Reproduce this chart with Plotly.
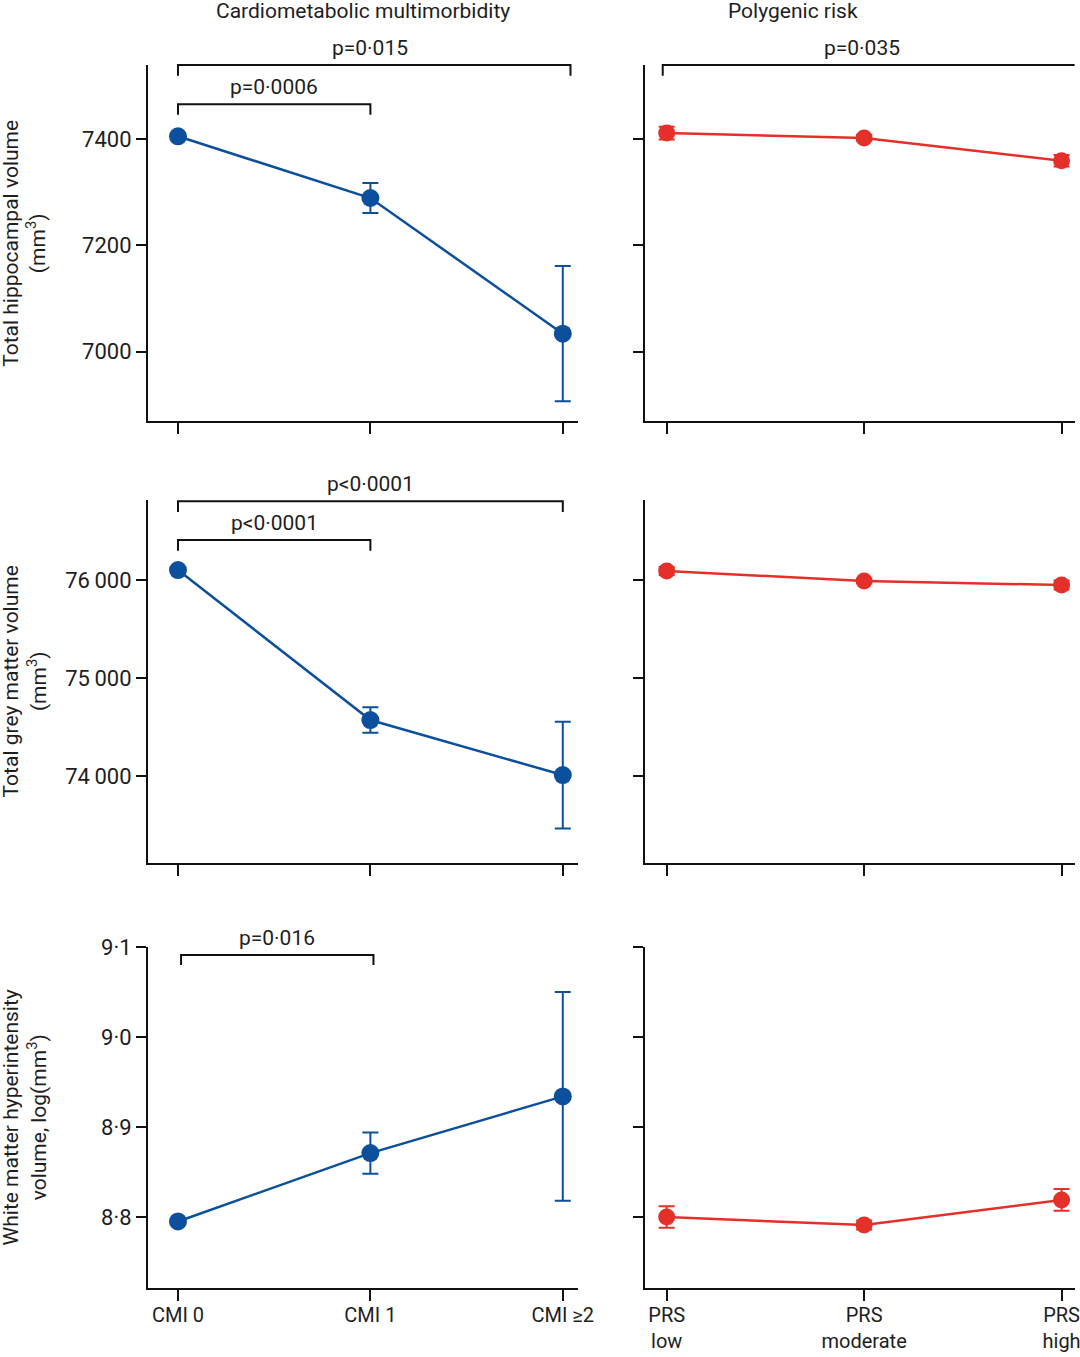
import plotly.graph_objects as go

# categories
cmi_labels = ["CMI 0", "CMI 1", "CMI ≥2"]
prs_labels = ["PRS<br>low", "PRS<br>moderate", "PRS<br>high"]

# hippocampal volume (mm3)
hip_cmi = [7405, 7289, 7034]
hip_cmi_err = [4, 28, 127]
hip_prs = [7411, 7402, 7359]
hip_prs_err = [12, 6, 11]

# grey matter volume (mm3)
grey_cmi = [76102, 74571, 74010]
grey_cmi_err = [15, 130, 545]
grey_prs = [76092, 75990, 75949]
grey_prs_err = [40, 20, 45]

# white matter hyperintensity, log(mm3)
wmh_cmi = [8.795, 8.871, 8.934]
wmh_cmi_err = [0.003, 0.023, 0.116]
wmh_prs = [8.800, 8.791, 8.819]
wmh_prs_err = [0.012, 0.005, 0.012]

# y axis ticks
hip_ticks = [7000, 7200, 7400]
hip_ticktext = ["7000", "7200", "7400"]
grey_ticks = [74000, 75000, 76000]
grey_ticktext = ["74\u2009000", "75\u2009000", "76\u2009000"]
wmh_ticks = [8.8, 8.9, 9.0, 9.1]
wmh_ticktext = ["8·8", "8·9", "9·0", "9·1"]

y_ranges = [[6870, 7539], [73112, 76816], [8.721, 9.1]]
y_titles = ["Total hippocampal volume<br>(mm<sup>3</sup>)",
            "Total grey matter volume<br>(mm<sup>3</sup>)",
            "White matter hyperintensity<br>volume, log(mm<sup>3</sup>)"]

# significance brackets: (row, col, from, to, level in y-domain, label, overhang)
brackets = [
    (0, 0, 0, 2, 1.0, "p=0·015", 0.04),
    (0, 0, 0, 1, 0.89, "p=0·0006", 0),
    (0, 1, -0.02, 2, 1.0, "p=0·035", 0.08),
    (1, 0, 0, 2, 0.997, "p<0·0001", 0),
    (1, 0, 0, 1, 0.89, "p<0·0001", 0),
    (2, 0, 0.016, 1.016, 0.977, "p=0·016", 0),
]

BLUE = "#0c4f9d"
RED = "#e5302a"
FONT = "Roboto, Noto Sans"
TXT = "#1e1e1e"

x_domains = [[0.137, 0.535], [0.597, 0.995]]
y_domains = [[0.6898, 0.9521], [0.3640, 0.6315], [0.0508, 0.3021]]
x_ranges = [[-0.156, 2.078], [-0.111, 2.066]]

series = [
    [(hip_cmi, hip_cmi_err), (hip_prs, hip_prs_err)],
    [(grey_cmi, grey_cmi_err), (grey_prs, grey_prs_err)],
    [(wmh_cmi, wmh_cmi_err), (wmh_prs, wmh_prs_err)],
]
ticks = [(hip_ticks, hip_ticktext), (grey_ticks, grey_ticktext),
         (wmh_ticks, wmh_ticktext)]

fig = go.Figure()
layout = {}
annotations = []
shapes = []

for r in range(3):
    for c in range(2):
        n = r * 2 + c + 1
        xa = "x" if n == 1 else f"x{n}"
        ya = "y" if n == 1 else f"y{n}"
        vals, err = series[r][c]
        color = BLUE if c == 0 else RED
        fig.add_trace(go.Scatter(
            x=[0, 1, 2], y=vals, xaxis=xa, yaxis=ya, mode="lines+markers",
            line=dict(color=color, width=2.5),
            marker=dict(color=color, size=18 if c == 0 else 17),
            error_y=dict(type="data", array=err, visible=True, color=color,
                         thickness=2, width=8),
            showlegend=False, cliponaxis=False))

        labels = cmi_labels if c == 0 else prs_labels
        layout["xaxis" if n == 1 else f"xaxis{n}"] = dict(
            domain=x_domains[c], range=x_ranges[c], anchor=ya,
            tickvals=[0, 1, 2], ticktext=labels, showticklabels=(r == 2),
            showline=True, linecolor="#111", linewidth=2, ticks="outside",
            ticklen=11, tickwidth=2, tickcolor="#111", showgrid=False,
            zeroline=False, automargin=False, ticklabeloverflow="allow",
            ticklabelstandoff=-3,
            tickfont=dict(size=20, color=TXT, family=FONT))
        layout["yaxis" if n == 1 else f"yaxis{n}"] = dict(
            domain=y_domains[r], range=y_ranges[r], anchor=xa,
            tickvals=ticks[r][0], ticktext=ticks[r][1],
            showticklabels=(c == 0), showline=True, linecolor="#111",
            linewidth=2, ticks="outside", ticklen=10, tickwidth=2,
            tickcolor="#111", showgrid=False, zeroline=False,
            automargin=False,
            tickfont=dict(size=22, color=TXT, family=FONT))

    annotations.append(dict(
        x=0.023, y=sum(y_domains[r]) / 2, xref="paper", yref="paper",
        xanchor="center", yanchor="middle",
        text=y_titles[r], textangle=-90, showarrow=False,
        font=dict(size=21, color=TXT, family=FONT)))

for r, c, a, b, lvl, label, over in brackets:
    n = r * 2 + c + 1
    xa = "x" if n == 1 else f"x{n}"
    yd = ("y" if n == 1 else f"y{n}") + " domain"
    drop = 0.03
    b2 = b + over
    path = f"M {a},{lvl - drop} L {a},{lvl} L {b2},{lvl} L {b2},{lvl - drop}"
    shapes.append(dict(type="path", path=path, xref=xa, yref=yd,
                       line=dict(color="#111", width=2)))
    annotations.append(dict(
        x=(a + b) / 2, y=lvl, xref=xa, yref=yd, text=label, showarrow=False,
        yanchor="bottom", yshift=3,
        font=dict(size=21, color=TXT, family=FONT)))

for c, title in enumerate(["Cardiometabolic multimorbidity", "Polygenic risk"]):
    annotations.append(dict(
        x=sum(x_domains[c]) / 2, y=1.0, xref="paper", yref="paper",
        text=title, showarrow=False, yanchor="top", yshift=3,
        font=dict(size=21, color=TXT, family=FONT)))

fig.update_layout(
    width=1080, height=1357, margin=dict(l=0, r=0, t=0, b=0),
    paper_bgcolor="white", plot_bgcolor="white",
    annotations=annotations, shapes=shapes, **layout)

fig.write_html("out.html", config={"displayModeBar": False},
               post_script="document.body.style.margin='0';")
